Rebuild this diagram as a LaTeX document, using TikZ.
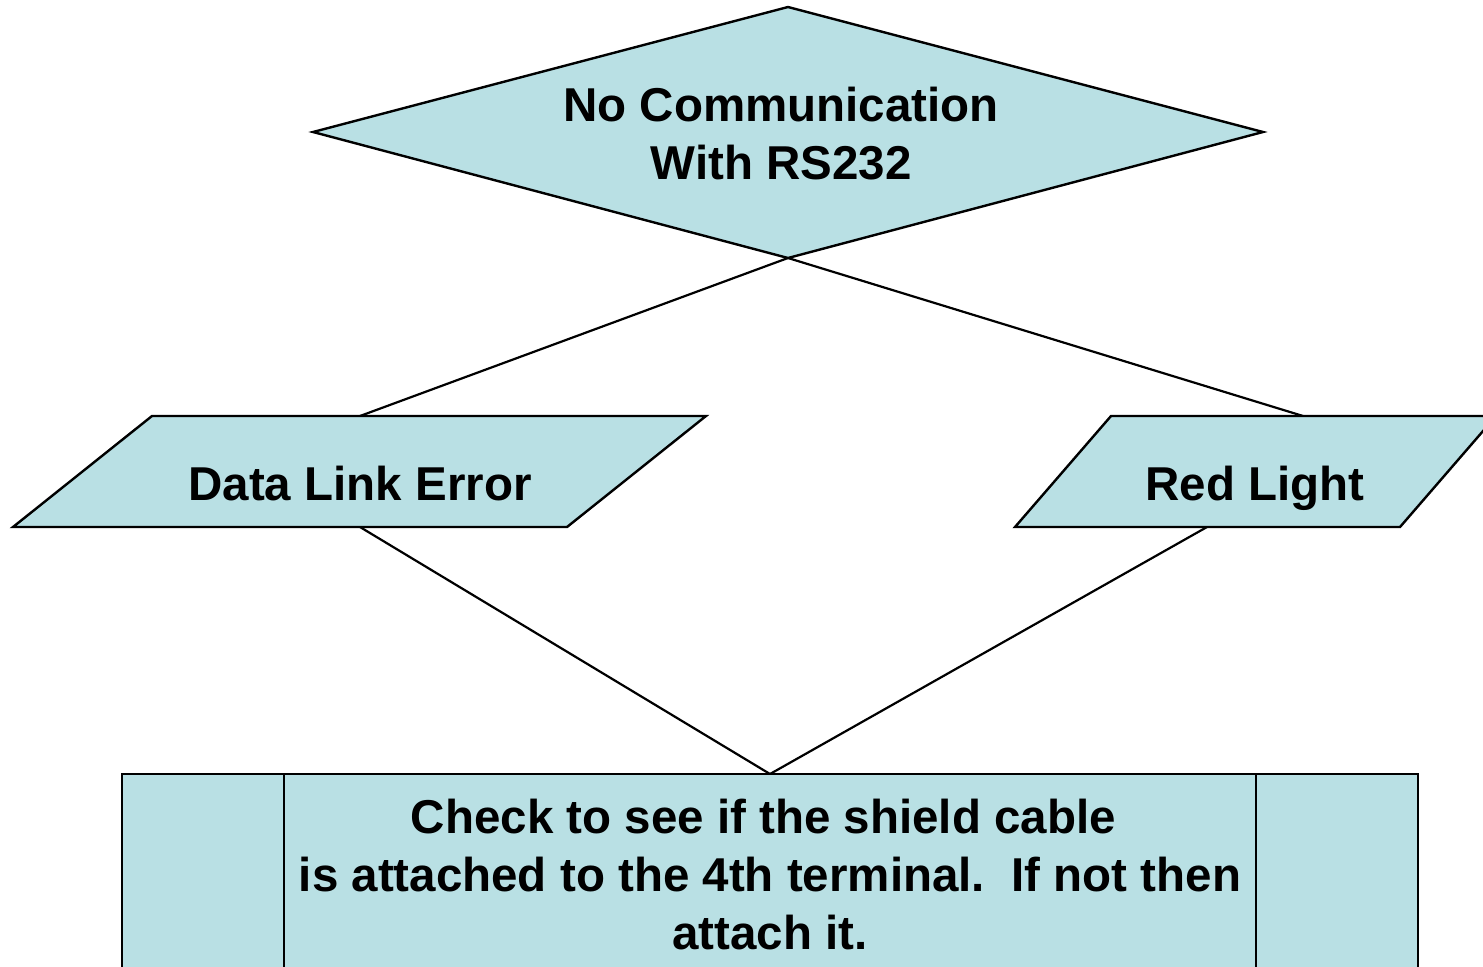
\documentclass[tikz,border=0pt]{standalone}
\usepackage{fontspec}
\setmainfont{Liberation Sans}
\definecolor{boxfill}{RGB}{185,224,228}
\begin{document}
\frenchspacing
\begin{tikzpicture}[x=1bp,y=-1bp,
  shapeline/.style={draw=black,line width=2.4bp,line join=miter,fill=boxfill},
  conn/.style={draw=black,line width=2.2bp},
  lbl/.style={font=\fontsize{47.5bp}{58bp}\selectfont\bfseries,inner sep=0,align=center}]
\useasboundingbox (0,0) rectangle (1483,966);
\fill[white] (0,0) rectangle (1483,966);
\clip (0,0) rectangle (1483,966);
% named anchor points
\coordinate (dT) at (788,7);
\coordinate (dL) at (313,132);
\coordinate (dR) at (1263,132);
\coordinate (dB) at (788,258);
\coordinate (aTop) at (360,416);
\coordinate (aBot) at (360,527);
\coordinate (bTop) at (1303,416);
\coordinate (bBot) at (1207,527);
\coordinate (cTop) at (770,774);
% connectors (drawn first, shapes over them)
\draw[conn] (dB) -- (aTop);
\draw[conn] (dB) -- (bTop);
\draw[conn] (aBot) -- (cTop);
\draw[conn] (bBot) -- (cTop);
% decision diamond
\path[shapeline] (dT) -- (dR) -- (dB) -- (dL) -- cycle;
\node[lbl] (nocomm) at (781,134) {No Communication\\With RS232};
% data parallelograms
\path[shapeline] (152,416) -- (706,416) -- (567,527) -- (13,527) -- cycle;
\node[lbl,anchor=base] (dle) at (360,500) {Data Link Error};
\path[shapeline] (1111,416) -- (1496,416) -- (1400,527) -- (1015,527) -- cycle;
\node[lbl,anchor=base] (red) at (1255,500) {Red Light};
% predefined process
\path[shapeline] (122,774) rectangle (1418,990);
\draw[line width=2.4bp] (284,774) -- (284,990);
\draw[line width=2.4bp] (1256,774) -- (1256,990);
\node[lbl] (check) at (770,875) {Check to see if the shield cable\hspace*{0.278em}\\is attached to the 4th terminal.~ If not then\\attach it.};
\end{tikzpicture}
\end{document}
